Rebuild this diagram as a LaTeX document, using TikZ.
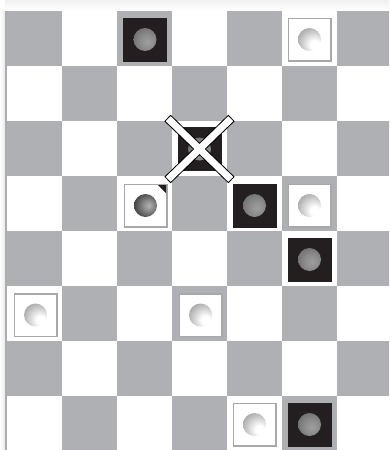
\documentclass[tikz,border=0pt]{standalone}
\usetikzlibrary{calc}
\definecolor{sqgray}{RGB}{175,176,180}
\definecolor{pcblack}{RGB}{35,31,32}
\definecolor{framegray}{RGB}{168,168,170}
\definecolor{edgegray}{RGB}{172,173,176}
% sphere shadings for the men
\pgfdeclareradialshading{wsph}{\pgfpoint{7bp}{-7bp}}{color(0bp)=(white); color(5bp)=(white); color(24bp)=(black!45); color(40bp)=(black!40)}
\pgfdeclareradialshading{bsph}{\pgfpoint{3bp}{-3bp}}{color(0bp)=(black!38); color(8bp)=(black!45); color(26bp)=(black!68); color(40bp)=(black!70)}
\pgfdeclareradialshading{ksph}{\pgfpoint{4bp}{0bp}}{color(0bp)=(black!30); color(5bp)=(black!42); color(20bp)=(black!85); color(26bp)=(black); color(40bp)=(black)}
\tikzset{
  blkman/.style={fill=pcblack, inner sep=0pt, minimum size=44pt,
    path picture={\shade[shading=bsph] (path picture bounding box.center) circle (11.5pt);}},
  whtman/.style={fill=white, draw=framegray, line width=1.5pt, inner sep=0pt, minimum size=42.5pt,
    path picture={\shade[shading=#1] (path picture bounding box.center) circle (11.5pt);}},
  whtman/.default=wsph,
  xout/.style={line width=9pt, draw=black},
  xin/.style={line width=7pt, draw=white, shorten <=1pt, shorten >=1pt}
}
\begin{document}
\begin{tikzpicture}[x=1pt, y=-1pt]
\useasboundingbox (0,0) rectangle (389,450);
\clip (0,0) rectangle (389,450);
% page edge
\shade[left color=white, right color=gray!18] (0,10) rectangle (5,450);
\shade[top color=gray!12, bottom color=white] (5,0) rectangle (389,10.5);
\fill[edgegray] (5,10.5) rectangle (7,450);
% board
\foreach \r in {0,...,7}
  \foreach \c in {0,...,6} {
    \pgfmathtruncatemacro\odd{mod(\r+\c,2)}
    \ifnum\odd=0 \fill[sqgray] (7+55*\c,11+55*\r) rectangle +(55,55); \fi
  }
% men
\node[blkman] (b1) at (145,39.5) {};
\node[whtman] (w1) at (309.5,39.5) {};
\node[blkman] (cap) at (199.5,149) {};
\node[whtman=ksph] (king) at (145.5,205.5) {};
\fill[pcblack] ($(king.north east)+(-1.5,1.5)$) -- +(-8,0) -- +(0,8) -- cycle;
\node[blkman] (b2) at (254.5,205.5) {};
\node[whtman] (w2) at (309.5,205.5) {};
\node[blkman] (b3) at (309.5,259.5) {};
\node[whtman] (w3) at (35.5,315) {};
\node[whtman] (w4) at (200.5,315) {};
\node[whtman] (w5) at (254.5,424.5) {};
\node[blkman] (b4) at (309.5,424.5) {};
% captured
\coordinate (xa) at ($(cap)+(-32,-31)$);
\coordinate (xb) at ($(cap)+(32,31)$);
\coordinate (xc) at ($(cap)+(32,-31)$);
\coordinate (xd) at ($(cap)+(-32,31)$);
\draw[xout] (xa) -- (xb);
\draw[xout] (xc) -- (xd);
\draw[xin] (xa) -- (xb);
\draw[xin] (xc) -- (xd);
\end{tikzpicture}
\end{document}
